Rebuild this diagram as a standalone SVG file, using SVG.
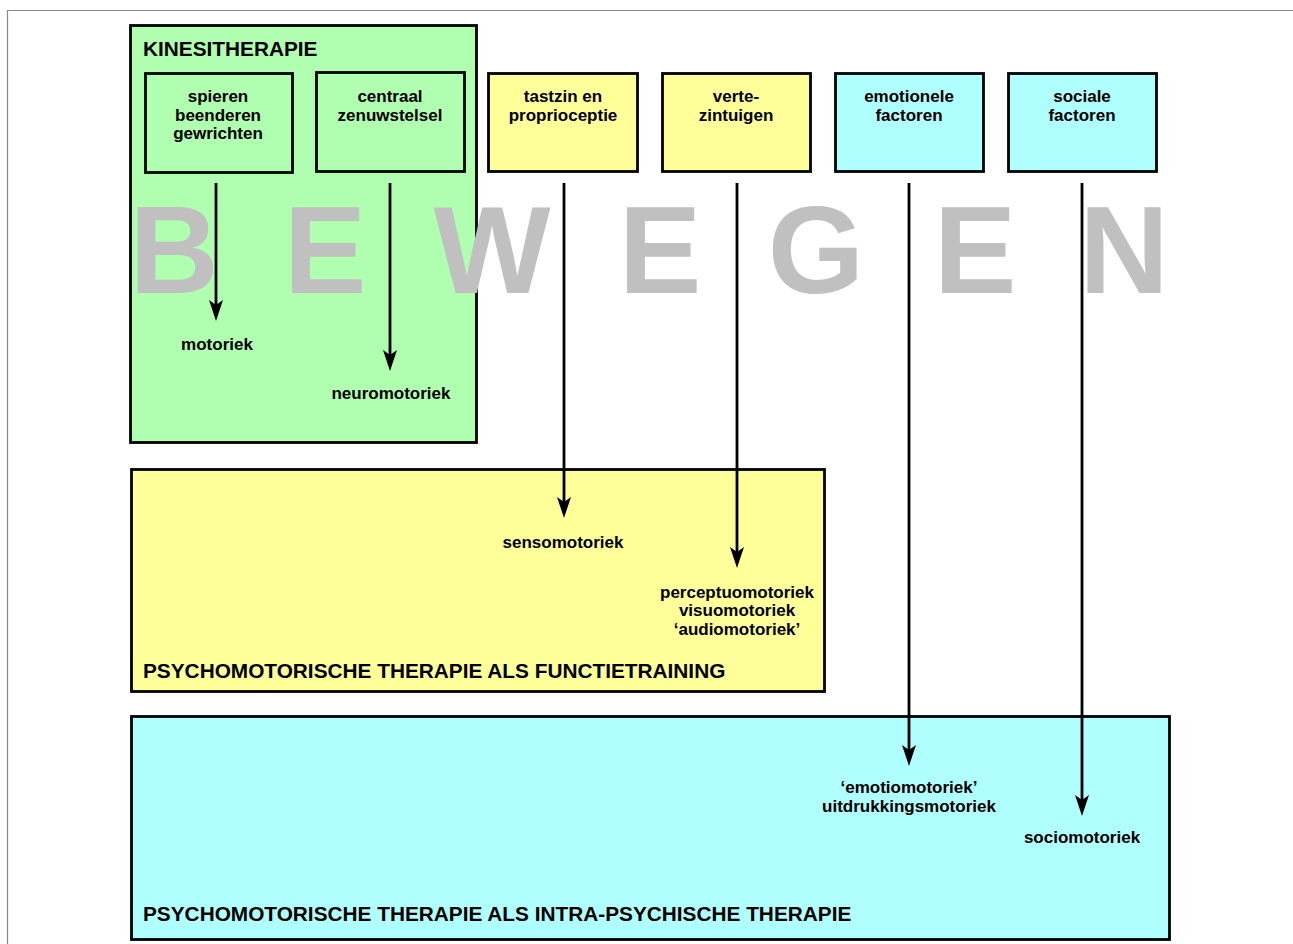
<svg xmlns="http://www.w3.org/2000/svg" width="1293" height="944" viewBox="0 0 1293 944">
<defs>
<style>
.box{stroke:#000;stroke-width:2.8}
.g{fill:#b0ffb0}
.y{fill:#ffff99}
.c{fill:#b0ffff}
text{font-family:"Liberation Sans",Arial,sans-serif;font-weight:bold;fill:#000}
.t{font-size:17px;text-anchor:middle}
.h{font-size:20.8px}
.big{font-size:124px;fill:#c0c0c0;text-anchor:middle}
.ln{stroke:#000;stroke-width:2.8;fill:none}
</style>
</defs>
<rect x="0" y="0" width="1293" height="944" fill="#fff"/>
<path d="M7.5,944 V10.5 H1293" fill="none" stroke="#888" stroke-width="1.2"/>

<g id="kinesitherapie">
<rect class="box g" x="130.5" y="25.5" width="346" height="417"/>
<text class="h" x="143" y="56">KINESITHERAPIE</text>
</g>
<g id="functietraining">
<rect class="box y" x="131.5" y="469.5" width="693" height="222"/>
<text class="h" x="143" y="678">PSYCHOMOTORISCHE THERAPIE ALS FUNCTIETRAINING</text>
</g>
<g id="intrapsychisch">
<rect class="box c" x="131.5" y="716.5" width="1038" height="223"/>
<text class="h" x="143" y="921">PSYCHOMOTORISCHE THERAPIE ALS INTRA-PSYCHISCHE THERAPIE</text>
</g>

<g id="bewegen">
<text class="big" x="174" y="293">B</text>
<text class="big" x="325" y="293">E</text>
<text class="big" x="492" y="293">W</text>
<text class="big" x="660" y="293">E</text>
<text class="big" x="816" y="293">G</text>
<text class="big" x="975" y="293">E</text>
<text class="big" x="1124" y="293">N</text>
</g>

<g id="spieren">
<rect class="box g" x="145.5" y="73.5" width="147" height="99"/>
<text class="t" x="218" y="102">spieren</text>
<text class="t" x="218" y="120.5">beenderen</text>
<text class="t" x="218" y="139">gewrichten</text>
</g>
<g id="centraal">
<rect class="box g" x="316.5" y="72.5" width="148" height="99"/>
<text class="t" x="390" y="102">centraal</text>
<text class="t" x="390" y="120.5">zenuwstelsel</text>
</g>
<g id="tastzin">
<rect class="box y" x="488.5" y="73.5" width="149" height="98"/>
<text class="t" x="563" y="102">tastzin en</text>
<text class="t" x="563" y="120.5">proprioceptie</text>
</g>
<g id="verte">
<rect class="box y" x="662.5" y="73.5" width="148" height="98"/>
<text class="t" x="736" y="102">verte-</text>
<text class="t" x="736" y="120.5">zintuigen</text>
</g>
<g id="emotionele">
<rect class="box c" x="835.5" y="73.5" width="148" height="98"/>
<text class="t" x="909" y="102">emotionele</text>
<text class="t" x="909" y="120.5">factoren</text>
</g>
<g id="sociale">
<rect class="box c" x="1008.5" y="73.5" width="148" height="98"/>
<text class="t" x="1082" y="102">sociale</text>
<text class="t" x="1082" y="120.5">factoren</text>
</g>

<g id="connectors">
<path class="ln" d="M216,183 V310"/>
<path d="M209,300 L216,305 L223,300 L216,321 Z"/>
<path class="ln" d="M390,183 V360"/>
<path d="M383,350 L390,355 L397,350 L390,371 Z"/>
<path class="ln" d="M564,183 V507"/>
<path d="M557,497 L564,502 L571,497 L564,518 Z"/>
<path class="ln" d="M737,183 V557"/>
<path d="M730,547 L737,552 L744,547 L737,568 Z"/>
<path class="ln" d="M909,183 V755"/>
<path d="M902,745 L909,750 L916,745 L909,766 Z"/>
<path class="ln" d="M1082,183 V805"/>
<path d="M1075,795 L1082,800 L1089,795 L1082,816 Z"/>
</g>

<g id="labels">
<text class="t" x="217" y="350">motoriek</text>
<text class="t" x="391" y="399">neuromotoriek</text>
<text class="t" x="563" y="548">sensomotoriek</text>
<text class="t" x="737" y="598">perceptuomotoriek</text>
<text class="t" x="737" y="616">visuomotoriek</text>
<text class="t" x="737" y="635">‘audiomotoriek’</text>
<text class="t" x="909" y="793">‘emotiomotoriek’</text>
<text class="t" x="909" y="812">uitdrukkingsmotoriek</text>
<text class="t" x="1082" y="843">sociomotoriek</text>
</g>
</svg>
